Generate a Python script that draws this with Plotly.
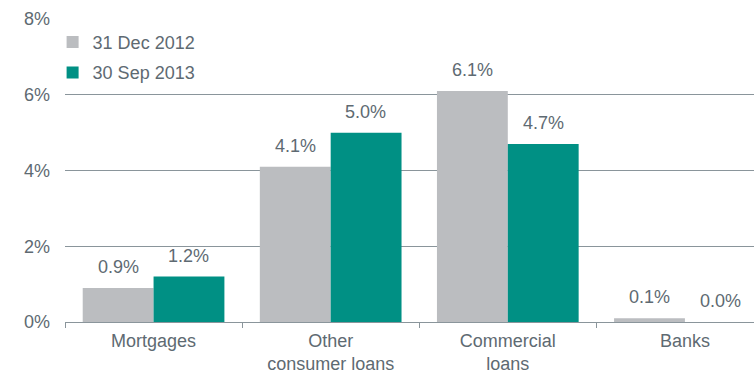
import plotly.graph_objects as go

categories = ["Mortgages", "Other<br>consumer loans", "Commercial<br>loans", "Banks"]
dec_2012 = [0.9, 4.1, 6.1, 0.1]
sep_2013 = [1.2, 5.0, 4.7, 0.0]
series_names = ["31 Dec 2012", "30 Sep 2013"]
y_ticks = [0, 2, 4, 6, 8]

GREY = "#bbbdc0"
TEAL = "#009084"
TEXT = "#5e6a72"
LINE = "#8a959b"
FONT = "Liberation Sans, Arial, sans-serif"
FS = 18

fig = go.Figure()
fig.add_trace(go.Bar(x=categories, y=dec_2012, name=series_names[0],
                     marker=dict(color=GREY, line=dict(width=0)),
                     legendgroup="a"))
fig.add_trace(go.Bar(x=categories, y=sep_2013, name=series_names[1],
                     marker=dict(color=TEAL, line=dict(width=0)),
                     legendgroup="b"))

# value labels above each bar
half = 35.3
for vals, shift in ((dec_2012, -half), (sep_2013, half)):
    for c, v in zip(categories, vals):
        fig.add_annotation(x=c, y=v, xref="x", yref="y", text=f"{v:.1f}%",
                           showarrow=False, xshift=shift, yshift=21,
                           yanchor="middle", font=dict(size=FS, color=TEXT, family=FONT))

fig.update_layout(
    width=754, height=373,
    margin=dict(l=65, r=0, t=19, b=51),
    paper_bgcolor="white", plot_bgcolor="white",
    barmode="group", bargap=0.2, bargroupgap=0,
    font=dict(family=FONT, size=FS, color=TEXT),
    legend=dict(x=-0.018, y=0.984, xanchor="left", yanchor="top",
                bgcolor="rgba(0,0,0,0)", font=dict(size=FS, color=TEXT),
                tracegroupgap=4, itemclick=False),
    showlegend=True,
)
fig.update_xaxes(range=[-0.5, 3.39], showline=True, linecolor=LINE, linewidth=1,
                 ticks="outside", tickson="boundaries", ticklen=5, tickcolor=LINE,
                 ticklabelstandoff=2, automargin=False,
                 showgrid=False, tickfont=dict(size=FS, color=TEXT))
fig.update_yaxes(range=[0, 8], tickvals=y_ticks, ticktext=[f"{t}%" for t in y_ticks],
                 showgrid=True, gridcolor=LINE, gridwidth=1, zeroline=False,
                 showline=False, ticks="", ticklabelstandoff=14, automargin=False,
                 tickfont=dict(size=FS, color=TEXT))

fig.write_html("out.html")
